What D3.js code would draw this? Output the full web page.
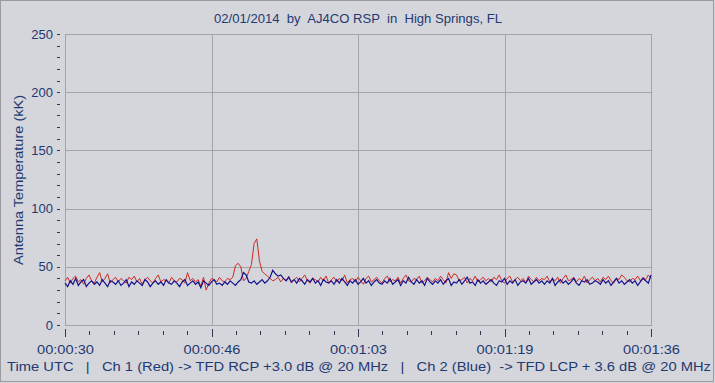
<!DOCTYPE html>
<html><head><meta charset="utf-8">
<script src="https://cdn.jsdelivr.net/npm/d3@7"></script>
<style>
html,body{margin:0;padding:0;background:#d5d5dc;}
svg{display:block;}
text{font-family:"Liberation Sans",Arial,sans-serif;white-space:pre;}
</style></head><body>
<script>
// ---- data ----
const title = "02/01/2014  by  AJ4CO RSP  in  High Springs, FL";
const yTitle = "Antenna Temperature (kK)";
const footer = "Time UTC   |   Ch 1 (Red) -> TFD RCP +3.0 dB @ 20 MHz   |   Ch 2 (Blue)  -> TFD LCP + 3.6 dB @ 20 MHz";
const timeRange = [30, 96];              // seconds after 00:00:00 UTC
const xTickSeconds = [30, 46.5, 63, 79.5, 96];
const yTicks = [0, 50, 100, 150, 200, 250];

const ch1Red = [
38,41,36,40,42,37,39,35,40,43,38,36,41,45,37,40,44,36,39,41,
37,40,38,36,41,39,42,37,40,35,39,41,38,36,40,43,37,39,38,36,
41,38,37,40,39,36,45,38,40,37,39,33,41,30,36,40,39,37,41,38,
37,40,39,41,51,53,50,38,40,46,52,70,74,55,46,44,42,40,38,39,
41,37,40,38,42,36,39,41,37,40,43,38,36,40,39,37,41,38,42,36,
39,41,37,40,38,43,36,39,40,37,41,38,35,40,42,37,39,41,38,36,
40,42,37,39,38,41,36,40,43,38,37,40,39,42,36,38,41,39,37,40,
38,42,39,36,45,40,44,43,38,39,41,36,40,38,42,37,39,41,38,40,
37,41,39,43,38,36,40,42,37,39,41,38,40,36,42,39,37,41,38,40,
39,42,37,40,38,41,36,40,43,38,39,41,37,40,38,42,36,39,41,38,
40,37,41,39,42,38,36,40,39,43,41,38,37,40,39,42,38,41,39,43,40
];
const ch2Blue = [
36,33,38,35,40,34,37,39,33,36,38,35,37,34,39,36,33,38,37,35,
38,34,36,39,33,37,35,38,36,34,39,37,33,36,38,35,37,34,39,36,
35,38,36,33,37,39,34,36,38,35,37,32,38,36,34,37,39,35,36,34,
37,35,38,36,34,37,39,45,43,37,36,38,35,37,39,36,38,41,47,44,
42,43,40,38,41,37,39,36,40,38,35,39,37,40,36,38,34,39,37,36,
38,35,39,36,40,37,34,38,36,39,35,37,40,36,38,34,37,39,36,35,
38,36,40,35,37,39,34,38,36,41,37,35,39,36,38,34,40,37,35,38,
36,39,35,38,40,34,37,36,39,35,38,41,36,37,34,39,36,38,35,37,
39,36,34,38,37,40,35,38,36,39,34,37,38,36,40,35,37,39,36,38,
35,38,36,40,34,37,39,36,38,35,37,40,36,34,38,37,39,35,36,38,
37,35,39,36,38,34,37,40,36,38,35,37,39,36,38,34,37,40,38,36,43
];

// ---- layout ----
const W = 715, H = 383;
const M = {left: 65, right: 651, top: 34, bottom: 325};
const textColor = "#1e3a70";
const gridColor = "#a4a4a8";

const svg = d3.select("body").append("svg").attr("width", W).attr("height", H);
svg.append("rect").attr("x",0.5).attr("y",0.5).attr("width",W-2).attr("height",H-2)
  .attr("fill","#d5d5dc").attr("stroke","#9a9aa0");

const x = d3.scaleLinear().domain(timeRange).range([M.left, M.right]);
const y = d3.scaleLinear().domain([0, 250]).range([M.bottom, M.top]);

const fmt = s => {
  const t = Math.floor(s + 1e-6);
  const hh = Math.floor(t/3600), mm = Math.floor((t%3600)/60), ss = t%60;
  return [hh,mm,ss].map(v => String(v).padStart(2,"0")).join(":");
};

// grid
const g = svg.append("g");
g.selectAll("line.hg").data(yTicks.slice(1,-1)).join("line")
  .attr("x1",M.left).attr("x2",M.right)
  .attr("y1",d=>Math.round(y(d))+0.5).attr("y2",d=>Math.round(y(d))+0.5)
  .attr("stroke",gridColor);
g.selectAll("line.vg").data(xTickSeconds.slice(1,-1)).join("line")
  .attr("y1",M.top).attr("y2",M.bottom)
  .attr("x1",d=>Math.round(x(d))+0.5).attr("x2",d=>Math.round(x(d))+0.5)
  .attr("stroke",gridColor);
svg.append("rect").attr("x",M.left+0.5).attr("y",M.top+0.5)
  .attr("width",M.right-M.left).attr("height",M.bottom-M.top)
  .attr("fill","none").attr("stroke",gridColor);

// y axis ticks & labels
const yMinor = d3.range(0, 251, 10);
svg.selectAll("line.ym").data(yMinor).join("line")
  .attr("x1",57).attr("x2",60)
  .attr("y1",d=>Math.round(y(d))+0.5).attr("y2",d=>Math.round(y(d))+0.5)
  .attr("stroke","#303850");
svg.selectAll("text.yl").data(yTicks).join("text")
  .attr("x",53).attr("y",d=>y(d)).attr("dy","0.35em")
  .attr("text-anchor","end").attr("font-size",13).attr("fill",textColor)
  .text(d=>d);

// x axis ticks & labels
const step = (xTickSeconds[1]-xTickSeconds[0])/6;
const xMinor = d3.range(0, 25).map(i => timeRange[0] + i*step);
svg.selectAll("line.xm").data(xMinor).join("line")
  .attr("x1",d=>Math.round(x(d))+0.5).attr("x2",d=>Math.round(x(d))+0.5)
  .attr("y1",(d,i)=> i%6===0 ? 329 : 331).attr("y2",(d,i)=> i%6===0 ? 337 : 335)
  .attr("stroke","#303850");
svg.selectAll("text.xl").data(xTickSeconds).join("text")
  .attr("x",d=>x(d)-28).attr("y",354)
  .attr("font-size",13).attr("fill",textColor)
  .attr("textLength",57).attr("lengthAdjust","spacingAndGlyphs")
  .text(fmt);

// titles
svg.append("text").attr("x",214).attr("y",23)
  .attr("font-size",12.5).attr("fill",textColor)
  .attr("textLength",288).attr("lengthAdjust","spacingAndGlyphs").text(title);
svg.append("text").attr("transform","translate(23,265) rotate(-90)")
  .attr("font-size",12.5).attr("fill",textColor)
  .attr("textLength",170).attr("lengthAdjust","spacingAndGlyphs").text(yTitle);
svg.append("text").attr("x",7).attr("y",371)
  .attr("font-size",12.5).attr("fill",textColor)
  .attr("textLength",704).attr("lengthAdjust","spacingAndGlyphs").text(footer);

// series
const line = (arr) => d3.line()
  .x((d,i) => x(timeRange[0] + i*(timeRange[1]-timeRange[0])/(arr.length-1)))
  .y(d => y(d))(arr);
svg.append("path").attr("d", line(ch1Red)).attr("fill","none")
  .attr("stroke","#d02a22").attr("stroke-width",1);
svg.append("path").attr("d", line(ch2Blue)).attr("fill","none")
  .attr("stroke","#14148c").attr("stroke-width",1.2);
</script>
</body></html>
